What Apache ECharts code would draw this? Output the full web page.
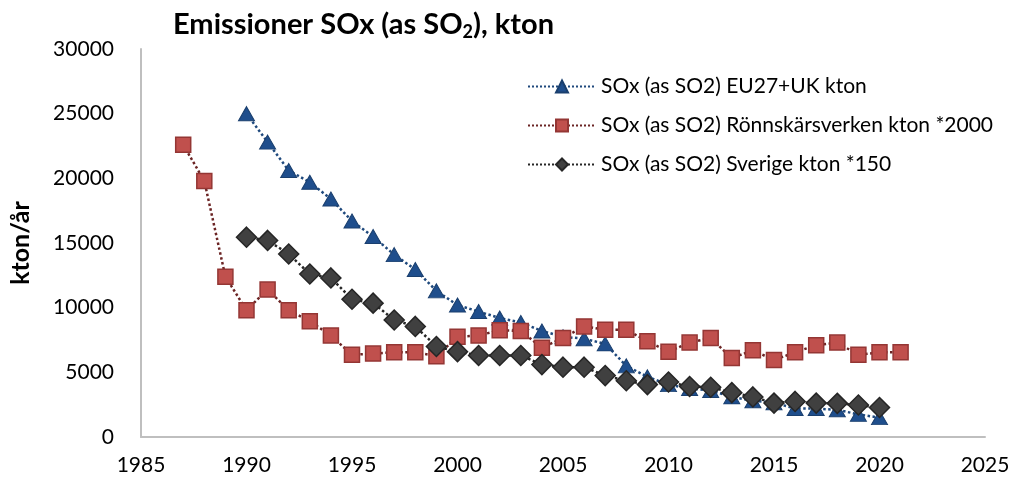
<!DOCTYPE html>
<html>
<head>
<meta charset="utf-8">
<title>Emissioner SOx</title>
<script src="https://cdn.jsdelivr.net/npm/echarts@6/dist/echarts.min.js"></script>
<style>
  html, body { margin: 0; padding: 0; background: #fff; }
  #chart { width: 1013px; height: 483px; }
</style>
</head>
<body>
<div id="chart"></div>
<script>
(function () {
  'use strict'

  // årtal
  var euYears = []
  for (var y = 1990; y <= 2020; y++) euYears.push(y)
  var ronYears = []
  for (var r = 1987; r <= 2021; r++) ronYears.push(r)
  var sveYears = euYears

  // SOx (as SO2) EU27+UK kton
  var euValues = [25000, 22800, 20600, 19700, 18400, 16700, 15500, 14100, 12950, 11300,
    10200, 9700, 9200, 8850, 8200, 7750, 7600, 7200, 5500, 4650,
    4050, 3750, 3600, 3100, 2800, 2650, 2200, 2200, 2100, 1750, 1500]

  // SOx (as SO2) Rönnskärsverken kton *2000
  var ronValues = [22600, 19800, 12400, 9800, 11400, 9800, 8950, 7850, 6350, 6450,
    6550, 6550, 6250, 7750, 7850, 8250, 8200, 6900, 7650, 8550,
    8300, 8300, 7400, 6600, 7300, 7650, 6100, 6700, 5950, 6550,
    7100, 7300, 6350, 6550, 6550]

  // SOx (as SO2) Sverige kton *150
  var sveValues = [15450, 15200, 14150, 12600, 12300, 10650, 10350, 9050, 8550, 7000,
    6600, 6300, 6300, 6300, 5600, 5400, 5400, 4750, 4350, 4050,
    4250, 3900, 3850, 3430, 3100, 2620, 2750, 2620, 2600, 2470, 2280]

  var seriesNames = [
    'SOx (as SO2) EU27+UK kton',
    'SOx (as SO2) Rönnskärsverken kton *2000',
    'SOx (as SO2) Sverige kton *150'
  ]

  function pairs (xs, vs) {
    return vs.map(function (v, i) { return [xs[i], v] })
  }

  // inga tusentalsavgränsare
  function plain (v) { return String(v) }

  var font = 'Lato, "Open Sans", sans-serif'

  var myChart = echarts.init(document.getElementById('chart'))

  myChart.setOption({
    animation: false,
    backgroundColor: '#ffffff',
    title: {
      text: '{t|Emissioner SOx (as SO}{s|2}{t|), kton}',
      left: 168,
      top: 4,
      textStyle: {
        rich: {
          t: { fontFamily: font, fontSize: 29, fontWeight: 'bold', color: '#000' },
          s: { fontFamily: font, fontSize: 18, fontWeight: 'bold', color: '#000', verticalAlign: 'bottom', padding: [14, 0, 0, 0] }
        }
      }
    },
    legend: {
      orient: 'vertical',
      left: 522,
      top: 71,
      itemWidth: 68,
      itemHeight: 15,
      itemGap: 18,
      textStyle: { fontFamily: font, fontSize: 21, color: '#000' },
      data: seriesNames
    },
    grid: {
      left: 137,
      right: 28,
      top: 49,
      bottom: 46,
      containLabel: false
    },
    xAxis: {
      type: 'value',
      min: 1985,
      max: 2025,
      interval: 5,
      axisLine: { lineStyle: { color: '#bfbfbf', width: 2 } },
      axisTick: { show: false },
      splitLine: { show: false },
      axisLabel: { fontFamily: font, fontSize: 21, color: '#000', margin: 18, formatter: plain }
    },
    yAxis: {
      type: 'value',
      min: 0,
      max: 30000,
      interval: 5000,
      name: 'kton/år',
      nameLocation: 'middle',
      nameGap: 108,
      nameTextStyle: { fontFamily: font, fontSize: 25, fontWeight: 'bold', color: '#000' },
      axisLine: { show: true, lineStyle: { color: '#bfbfbf', width: 2 } },
      axisTick: { show: false },
      splitLine: { show: false },
      axisLabel: { fontFamily: font, fontSize: 21, color: '#000', margin: 27, formatter: plain }
    },
    series: [
      {
        name: seriesNames[0],
        type: 'line',
        data: pairs(euYears, euValues),
        symbol: 'triangle',
        symbolSize: [16, 14],
        z: 2,
        lineStyle: { color: '#1f497d', width: 2.5, type: 'dotted' },
        itemStyle: { color: '#1f4e8c', borderColor: '#1a3f6e', borderWidth: 1 }
      },
      {
        name: seriesNames[1],
        type: 'line',
        data: pairs(ronYears, ronValues),
        symbol: 'rect',
        symbolSize: 15,
        z: 3,
        lineStyle: { color: '#6b2424', width: 2.5, type: 'dotted' },
        itemStyle: { color: '#c0504d', borderColor: '#943634', borderWidth: 1.5 }
      },
      {
        name: seriesNames[2],
        type: 'line',
        data: pairs(sveYears, sveValues),
        symbol: 'diamond',
        symbolSize: [20, 20],
        z: 4,
        lineStyle: { color: '#262626', width: 2.5, type: 'dotted' },
        itemStyle: { color: '#404040', borderColor: '#262626', borderWidth: 1.5 }
      }
    ]
  })
}())
</script>
</body>
</html>
